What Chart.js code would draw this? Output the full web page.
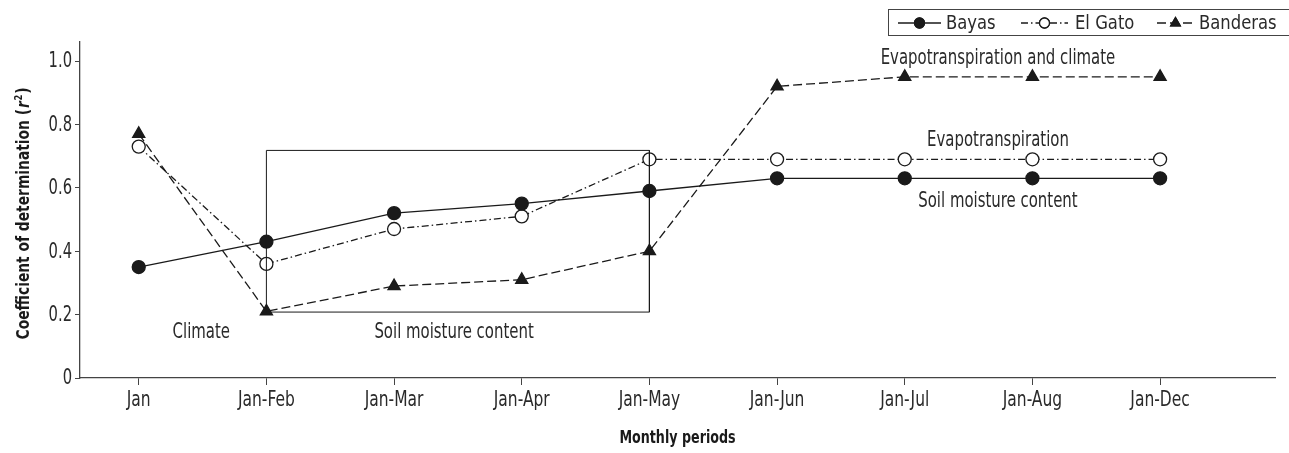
<!DOCTYPE html>
<html>
<head>
<meta charset="utf-8">
<script src="https://cdn.jsdelivr.net/npm/chart.js@4/dist/chart.umd.min.js"></script>
<style>
  html, body { margin: 0; padding: 0; background: #fff; }
  #wrap { width: 1289px; height: 453px; position: relative; }
</style>
</head>
<body>
<div id="wrap"><canvas id="chart"></canvas></div>
<script>
const FONT = "'DejaVu Sans Condensed', 'Liberation Sans Narrow', sans-serif";
const INK = "#1a1a1a";
const TEXT = "#2a2a2a";
const AXIS = "#444";

// periods on the x axis (index = position)
const periods = ["Jan", "Jan-Feb", "Jan-Mar", "Jan-Apr", "Jan-May", "Jan-Jun", "Jan-Jul", "Jan-Aug", "Jan-Dec"];
const yTicks = [0, 0.2, 0.4, 0.6, 0.8, 1.0];

// r² per watershed
const bayas    = [0.35, 0.43, 0.52, 0.55, 0.59, 0.63, 0.63, 0.63, 0.63];
const elGato   = [0.73, 0.36, 0.47, 0.51, 0.69, 0.69, 0.69, 0.69, 0.69];
const banderas = [0.77, 0.21, 0.29, 0.31, 0.40, 0.92, 0.95, 0.95, 0.95];

// box around the soil-moisture periods
const boxX = [1, 1, 4, 4, 1];
const boxY = [0.208, 0.718, 0.718, 0.208, 0.208];

// text labels inside the plot: [text, x, y]
const notes = [
  ["Climate", 0.49, 0.142],
  ["Soil moisture content", 2.47, 0.142],
  ["Evapotranspiration and climate", 6.73, 1.008],
  ["Evapotranspiration", 6.73, 0.748],
  ["Soil moisture content", 6.73, 0.556]
];

const toXY = arr => arr.map((v, i) => ({ x: i, y: v }));

const series = [
  { label: "Bayas", data: bayas, dash: [], style: "circle", fill: INK, r: 6.5 },
  { label: "El Gato", data: elGato, dash: [7, 3, 1.5, 3], style: "circle", fill: "#fff", r: 6.5 },
  { label: "Banderas", data: banderas, dash: [9, 4], style: "triangle", fill: INK, r: 7 }
];

const datasets = series.map(s => ({
  label: s.label,
  data: toXY(s.data),
  borderColor: INK,
  borderWidth: 1.3,
  borderDash: s.dash,
  pointStyle: s.style,
  pointRadius: s.r,
  pointBackgroundColor: s.fill,
  pointBorderColor: INK,
  pointBorderWidth: 1.3,
  tension: 0
}));

datasets.unshift({
  label: "box",
  data: boxX.map((x, i) => ({ x, y: boxY[i] })),
  borderColor: INK,
  borderWidth: 1,
  pointRadius: 0,
  tension: 0
});

// narrow text: draw a wider font squeezed horizontally
function say(ctx, text, x, y, font, align, sx) {
  ctx.save();
  ctx.font = font;
  ctx.translate(x, y);
  ctx.scale(sx, 1);
  ctx.textAlign = align;
  ctx.fillText(text, 0, 0);
  ctx.restore();
}

const extras = {
  id: "extras",
  afterDraw(chart) {
    const { ctx, scales: { x, y }, chartArea } = chart;
    ctx.save();
    ctx.fillStyle = TEXT;
    ctx.textBaseline = "middle";

    // tick labels
    periods.forEach((p, i) => say(ctx, p, x.getPixelForValue(i), 401, "21px " + FONT, "center", 0.82));
    yTicks.forEach(v => say(ctx, v === 0 ? "0" : v.toFixed(1), 72, y.getPixelForValue(v) + 1, "21px " + FONT, "right", 0.78));

    // notes in the plot
    notes.forEach(([t, vx, vy]) => say(ctx, t, x.getPixelForValue(vx), y.getPixelForValue(vy), "21px " + FONT, "center", 0.79));

    // x axis title
    ctx.fillStyle = INK;
    say(ctx, "Monthly periods", (chartArea.left + chartArea.right) / 2, 439, "bold 17px " + FONT, "center", 0.83);

    // y axis title, rotated, with italic r and superscript 2
    ctx.save();
    ctx.translate(29, 213);
    ctx.rotate(-Math.PI / 2);
    ctx.textBaseline = "alphabetic";
    const parts = [
      ["bold 18px " + FONT, "Coefficient of determination (", 0],
      ["italic bold 18px " + FONT, "r", 0],
      ["bold 11px " + FONT, "2", -7],
      ["bold 18px " + FONT, ")", 0]
    ];
    let total = 0;
    parts.forEach(p => { ctx.font = p[0]; total += ctx.measureText(p[1]).width + 1; });
    const sx = 253 / total;
    ctx.scale(sx, 1);
    let cx = -total / 2;
    ctx.textAlign = "left";
    parts.forEach(p => {
      ctx.font = p[0];
      ctx.fillText(p[1], cx, p[2]);
      cx += ctx.measureText(p[1]).width + 1;
    });
    ctx.restore();

    // legend box
    ctx.strokeStyle = AXIS;
    ctx.lineWidth = 1;
    ctx.strokeRect(888.5, 9.5, 420, 26);
    const cy = 23;
    const entries = [[898, 941, 946], [1021, 1068, 1075], [1157, 1194, 1199]];
    series.forEach((s, i) => {
      const [l0, l1, tx] = entries[i];
      ctx.strokeStyle = INK;
      ctx.lineWidth = 1.3;
      ctx.setLineDash(s.dash);
      ctx.beginPath();
      ctx.moveTo(l0, cy);
      ctx.lineTo(l1, cy);
      ctx.stroke();
      ctx.setLineDash([]);
      ctx.fillStyle = s.fill;
      Chart.helpers.drawPoint(ctx, { pointStyle: s.style, radius: s.r - 1.5, borderWidth: 1.3 }, (l0 + l1) / 2, cy);
      ctx.fill();
      ctx.stroke();
      ctx.fillStyle = TEXT;
      say(ctx, s.label, tx, cy + 1, "19px " + FONT, "left", 0.96);
    });
    ctx.restore();
  }
};

new Chart(document.getElementById("chart"), {
  type: "line",
  data: { datasets },
  plugins: [extras],
  options: {
    responsive: true,
    maintainAspectRatio: false,
    animation: false,
    layout: { padding: { top: 42, right: 14, left: 0, bottom: 0 } },
    plugins: { legend: { display: false }, tooltip: { enabled: false } },
    scales: {
      x: {
        type: "linear",
        min: -0.46,
        max: 8.9,
        afterBuildTicks: s => { s.ticks = periods.map((_, i) => ({ value: i })); },
        afterFit: s => { s.height = 75; },
        ticks: { callback: v => periods[v], color: "rgba(0,0,0,0)", autoSkip: false, maxRotation: 0 },
        grid: { drawOnChartArea: false, tickLength: 7, tickColor: AXIS },
        border: { color: AXIS, width: 1.3 }
      },
      y: {
        min: 0,
        max: 1.06,
        afterBuildTicks: s => { s.ticks = yTicks.map(v => ({ value: v })); },
        afterFit: s => { s.width = 80; },
        ticks: { color: "rgba(0,0,0,0)" },
        grid: { drawOnChartArea: false, tickLength: 5, tickColor: AXIS },
        border: { color: AXIS, width: 1.3 }
      }
    }
  }
});
</script>
</body>
</html>
